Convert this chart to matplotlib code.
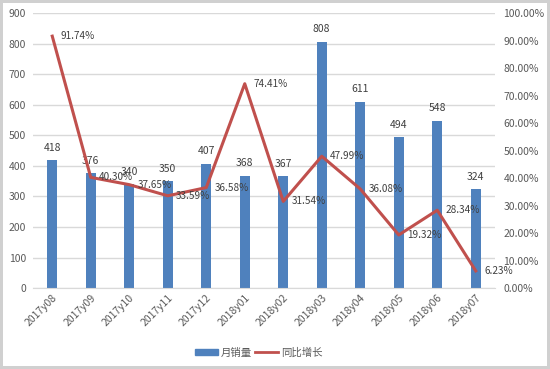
import numpy as np
import matplotlib.pyplot as plt
from matplotlib.patches import Patch
from matplotlib.lines import Line2D

plt.rcParams['font.family'] = ['Noto Sans CJK SC', 'DejaVu Sans']

months = ['2017y08', '2017y09', '2017y10', '2017y11', '2017y12', '2018y01',
          '2018y02', '2018y03', '2018y04', '2018y05', '2018y06', '2018y07']
sales = [418, 376, 340, 350, 407, 368, 367, 808, 611, 494, 548, 324]
growth = [91.74, 40.30, 37.65, 33.59, 36.58, 74.41, 31.54, 47.99, 36.08, 19.32, 28.34, 6.23]

bar_col = '#4F81BD'
line_col = '#C0504D'
txt_col = '#595959'
grid_col = '#D9D9D9'

fig = plt.figure(figsize=(5.5, 3.69), dpi=100)
fig.patch.set_edgecolor('#D0D0D0')
fig.patch.set_linewidth(3)

ax = fig.add_axes([0.06, 0.2195, 0.84, 0.744])
x = np.arange(len(months))

ax.bar(x, sales, width=0.27, color=bar_col, zorder=2)
ax.set_ylim(0, 900)
ax.set_xlim(-0.5, len(months) - 0.5)
ax.set_yticks(np.arange(0, 901, 100))
ax.yaxis.grid(True, color=grid_col, linewidth=1)
ax.set_axisbelow(True)
for s in ax.spines.values():
    s.set_visible(False)
ax.spines['bottom'].set_visible(True)
ax.spines['bottom'].set_color(grid_col)
ax.tick_params(axis='both', length=0, labelsize=7.5, colors=txt_col)
ax.tick_params(axis='y', pad=5)
ax.set_xticks(x)
ax.set_xticklabels(months, rotation=45, ha='right', rotation_mode='anchor')

for xi, v in zip(x, sales):
    ax.annotate(str(v), (xi, v), xytext=(0, 9), textcoords='offset points',
                ha='center', va='center', fontsize=7.5, color='#404040')

ax2 = ax.twinx()
g = np.array(growth) / 100
ax2.plot(x, g, color=line_col, linewidth=2.2, zorder=3)
ax2.set_ylim(0, 1)
ax2.set_yticks(np.arange(0, 1.01, 0.1))
ax2.set_yticklabels(['{:.2f}%'.format(t * 100) for t in np.arange(0, 1.01, 0.1)])
for s in ax2.spines.values():
    s.set_visible(False)
ax2.tick_params(axis='y', length=0, labelsize=7.5, colors=txt_col, pad=6)

for xi, v in zip(x, g):
    ax2.annotate('{:.2f}%'.format(v * 100), (xi, v), xytext=(6, 0),
                 textcoords='offset points', ha='left', va='center',
                 fontsize=7.2, color='#404040')

handles = [Patch(color=bar_col, label='月销量'),
           Line2D([0], [0], color=line_col, linewidth=2, label='同比增长')]
fig.legend(handles=handles, loc='center', bbox_to_anchor=(0.47, 0.045), ncol=2,
           frameon=False, fontsize=7.5, handlelength=2.2, handleheight=0.6,
           columnspacing=0.3, handletextpad=0.3, labelcolor=txt_col)

fig.savefig('out.png', dpi=100)
